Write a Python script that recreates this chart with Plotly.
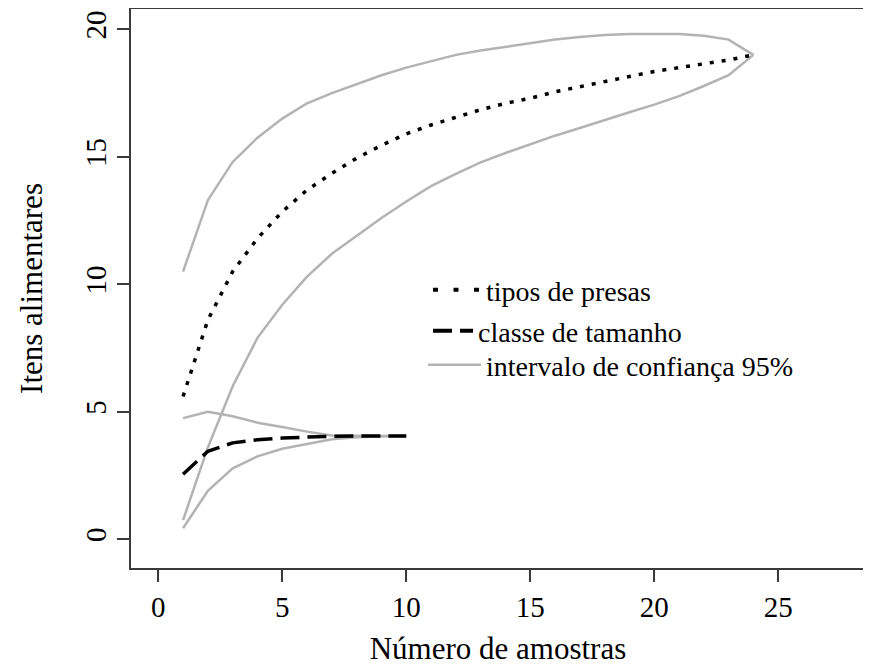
import plotly.graph_objects as go

# ---- data ----
amostras_presas = list(range(1, 25))
tipos_presas = [5.6, 8.6, 10.5, 11.8, 12.85, 13.7, 14.35, 14.95, 15.45, 15.9,
                16.25, 16.55, 16.85, 17.1, 17.3, 17.55, 17.75, 17.95, 18.15, 18.35,
                18.5, 18.65, 18.8, 19.0]
presas_ic_sup = [10.5, 13.3, 14.8, 15.75, 16.5, 17.1, 17.5, 17.85, 18.2, 18.5,
                 18.75, 19.0, 19.17, 19.32, 19.48, 19.6, 19.7, 19.78, 19.82, 19.83,
                 19.82, 19.75, 19.6, 19.0]
presas_ic_inf = [0.75, 3.6, 6.0, 7.9, 9.2, 10.3, 11.2, 11.9, 12.6, 13.25,
                 13.85, 14.33, 14.78, 15.15, 15.5, 15.83, 16.13, 16.45, 16.75, 17.05,
                 17.38, 17.78, 18.2, 19.0]

amostras_tamanho = list(range(1, 11))
classe_tamanho = [2.55, 3.45, 3.78, 3.9, 3.97, 4.02, 4.04, 4.05, 4.05, 4.05]
tamanho_ic_sup = [4.75, 5.0, 4.82, 4.57, 4.4, 4.22, 4.07, 4.05, 4.05, 4.05]
tamanho_ic_inf = [0.43, 1.9, 2.78, 3.25, 3.55, 3.75, 3.92, 4.0, 4.04, 4.05]

x_ticks = [0, 5, 10, 15, 20, 25]
y_ticks = [0, 5, 10, 15, 20]

legend_labels = ["tipos de presas", "classe de tamanho", "intervalo de confiança 95%"]

# ---- style ----
FONT = "Liberation Serif, Times New Roman, serif"
GRAY = "#b3b3b3"
AXIS = "#3a3a3a"

fig = go.Figure()

# confidence intervals (gray)
for xs, ys in [(amostras_presas, presas_ic_sup), (amostras_presas, presas_ic_inf),
               (amostras_tamanho, tamanho_ic_sup), (amostras_tamanho, tamanho_ic_inf)]:
    fig.add_trace(go.Scatter(x=xs, y=ys, mode="lines", showlegend=False,
                             line=dict(color=GRAY, width=2.5), hoverinfo="skip"))

# main curves
fig.add_trace(go.Scatter(x=amostras_presas, y=tipos_presas, mode="lines", showlegend=False,
                         line=dict(color="black", width=3.5, dash="4px,8px")))
fig.add_trace(go.Scatter(x=amostras_tamanho, y=classe_tamanho, mode="lines", showlegend=False,
                         line=dict(color="black", width=3.5, dash="19px,8px")))

# legend entries
fig.add_trace(go.Scatter(x=[None], y=[None], mode="lines", name=legend_labels[0],
                         legend="legend",
                         line=dict(color="black", width=4, dash="5px,15.5px")))
fig.add_trace(go.Scatter(x=[None], y=[None], mode="lines", name=legend_labels[1],
                         legend="legend2",
                         line=dict(color="black", width=4, dash="19px,8px")))
fig.add_trace(go.Scatter(x=[None], y=[None], mode="lines", name=legend_labels[2],
                         legend="legend3",
                         line=dict(color=GRAY, width=2.5)))

# page has an 8px body margin; the figure is sized to fit the window
OFF = 8
W, H = 863, 660
L, R, T, B = 123, 6, 1, 100
pw, ph = W - L - R, H - T - B

def px_x(p):
    return (p - OFF - L) / pw

def px_y(p):
    return (H - B - (p - OFF)) / ph

legend_common = dict(font=dict(family=FONT, size=28, color="black"),
                     bgcolor="rgba(0,0,0,0)", borderwidth=0,
                     xanchor="left", yanchor="middle", tracegroupgap=0)

fig.update_layout(
    width=W, height=H,
    margin=dict(l=L, r=R, t=T, b=B, autoexpand=False),
    plot_bgcolor="white", paper_bgcolor="white",
    font=dict(family=FONT, color="black"),
    legend=dict(x=px_x(428), y=px_y(290), itemwidth=48, **legend_common),
    legend2=dict(x=px_x(428), y=px_y(331), itemwidth=40, **legend_common),
    legend3=dict(x=px_x(423), y=px_y(365), itemwidth=53, **legend_common),
    xaxis=dict(range=[-1.1, 28.5], tickvals=x_ticks, ticktext=[str(v) for v in x_ticks],
               ticks="outside", ticklen=12, tickwidth=1.5, tickcolor=AXIS,
               showline=True, mirror=True, linecolor=AXIS, linewidth=1.5,
               showgrid=False, zeroline=False,
               tickfont=dict(family=FONT, size=29, color="black"),
               title=dict(text="Número de amostras", font=dict(family=FONT, size=31, color="black"),
                          standoff=16)),
    yaxis=dict(range=[-1.13, 20.8], tickvals=y_ticks, ticktext=[str(v) for v in y_ticks],
               tickangle=-90,
               ticks="outside", ticklen=12, tickwidth=1.5, tickcolor=AXIS,
               showline=True, mirror=True, linecolor=AXIS, linewidth=1.5,
               showgrid=False, zeroline=False,
               tickfont=dict(family=FONT, size=29, color="black"),
               title=dict(text="Itens alimentares", font=dict(family=FONT, size=31, color="black"),
                          standoff=28)),
)

fig.write_html("out.html")
